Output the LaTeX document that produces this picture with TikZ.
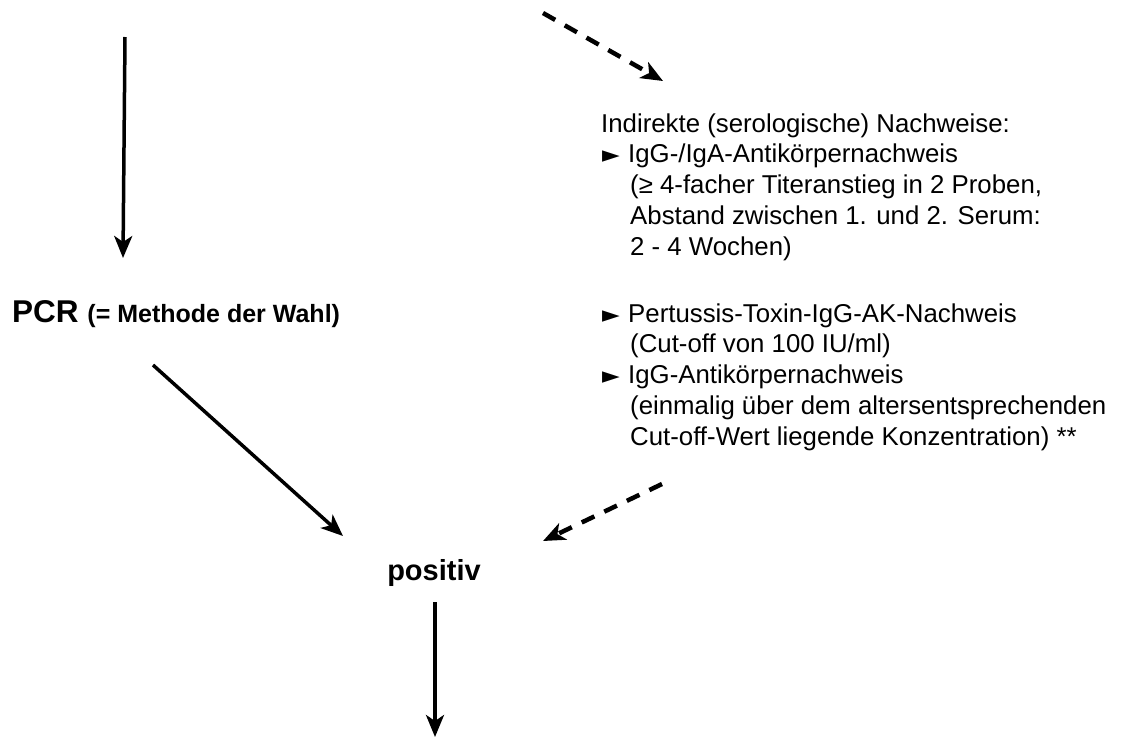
\documentclass[tikz,border=0pt]{standalone}
\usepackage{fontspec}
\setmainfont{Liberation Sans}
\newfontfamily\symfont{DejaVu Sans}
\usetikzlibrary{arrows.meta}
\newcommand{\blt}{\makebox[27pt][l]{\hspace*{1pt}\raisebox{0pt}{\symfont\fontsize{23}{23}\selectfont ►}}}
\newcommand{\ind}{\hspace*{29pt}}
\tikzset{
  arr/.style={line width=3.5pt, -{Stealth[length=22pt,width=18pt,inset=6pt]}},
  darr/.style={line width=4.5pt, dash pattern=on 14pt off 11pt, -{Stealth[length=22pt,width=18pt,inset=6pt]}},
  txt/.style={inner sep=0pt, align=left, font=\fontsize{25.8}{30.7}\selectfont},
  lbl/.style={inner sep=0pt, font=\bfseries}
}
\begin{document}
\begin{tikzpicture}[x=1pt,y=-1pt]
\useasboundingbox (0,0) rectangle (1127,737);
% texts (base anchor = baseline of last line)
\node[txt, anchor=base west] (sero1) at (601,255) {Indirekte (serologische) Nachweise:\\
\blt IgG-/IgA-Antikörpernachweis\\
\ind(≥ 4-facher Titeranstieg in 2 Proben,\\
\ind Abstand zwischen 1. und 2. Serum:\\
\ind 2 - 4 Wochen)};
\node[txt, anchor=base west] (sero2) at (601,445) {\blt Pertussis-Toxin-IgG-AK-Nachweis\\
\ind(Cut-off von 100 IU/ml)\\
\blt IgG-Antikörpernachweis\\
\ind(einmalig über dem altersentsprechenden\\
\ind Cut-off-Wert liegende Konzentration) **};
\node[lbl, anchor=base west] (pcr) at (12,322) {\fontsize{31.5}{33}\selectfont PCR \fontsize{25}{28}\selectfont(= Methode der Wahl)};
\node[lbl, anchor=base] (pos) at (434,580) {\fontsize{29}{31}\selectfont positiv};
% connector ends
\coordinate (a1s) at (125,37);
\coordinate (a1e) at (123,258);
\coordinate (d1s) at (543,13);
\coordinate (d1e) at (663,81);
\coordinate (pcrout) at (153,365);
\coordinate (posinA) at (343,536);
\coordinate (seroout) at (662,484);
\coordinate (posinB) at (543,541);
\coordinate (posout) at (435,602);
\coordinate (fin) at (435,737);
% connectors
\draw[arr] (a1s) -- (a1e);
\draw[darr] (d1s) -- (d1e);
\draw[arr] (pcrout) -- (posinA);
\draw[darr] (seroout) -- (posinB);
\draw[arr] (posout) -- (fin);
\end{tikzpicture}
\end{document}
